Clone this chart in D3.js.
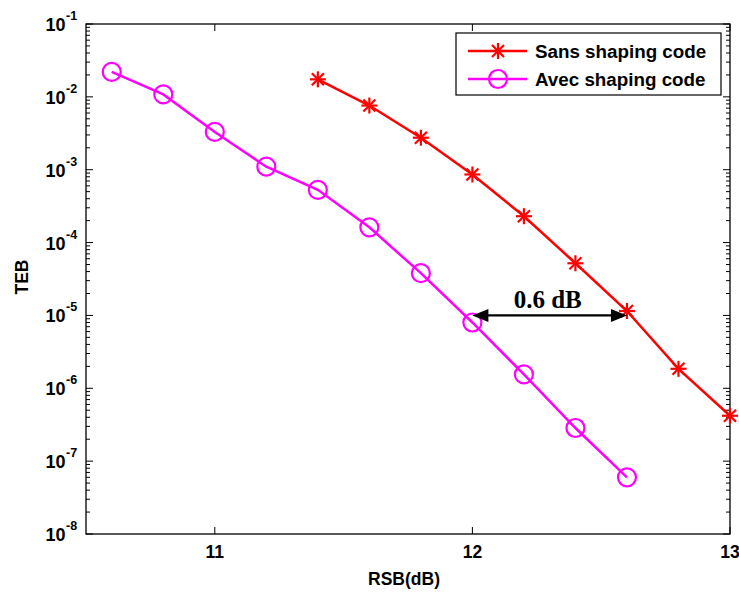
<!DOCTYPE html>
<html><head><meta charset="utf-8">
<script src="https://cdn.jsdelivr.net/npm/d3@7"></script>
<style>body{margin:0;background:#fff}svg{display:block}</style>
</head><body>
<svg id="c" width="739" height="592"></svg>
<script>
const sansX = [11.4, 11.6, 11.8, 12.0, 12.2, 12.4, 12.6, 12.8, 13.0];
const sansY = [1.74e-2, 7.6e-3, 2.75e-3, 8.6e-4, 2.3e-4, 5.2e-5, 1.15e-5, 1.85e-6, 4.2e-7];
const avecX = [10.6, 10.8, 11.0, 11.2, 11.4, 11.6, 11.8, 12.0, 12.2, 12.4, 12.6];
const avecY = [2.2e-2, 1.08e-2, 3.3e-3, 1.1e-3, 5.3e-4, 1.62e-4, 3.8e-5, 8.0e-6, 1.55e-6, 2.85e-7, 6.0e-8];
const xTicks = [11, 12, 13];
const yExps = [-1, -2, -3, -4, -5, -6, -7, -8];
const seriesNames = ["Sans shaping code", "Avec shaping code"];
const arrowX = [12.0, 12.6];
const arrowY = 1e-5;
const arrowLabel = "0.6 dB";

const svg = d3.select("#c");
const L = 86, R = 730, T = 24, B = 534;
const x = d3.scaleLinear().domain([10.5, 13]).range([L, R]);
const y = d3.scaleLog().domain([1e-8, 1e-1]).range([B, T]);
const font = "'Liberation Sans', Arial, sans-serif";

// minor ticks
const minor = [];
for (let e = -8; e < -1; e++) for (let k = 2; k <= 9; k++) minor.push(k * Math.pow(10, e));
const g = svg.append("g").attr("stroke", "#000").attr("stroke-width", 1);
minor.forEach(v => {
  g.append("line").attr("x1", L).attr("x2", L + 4).attr("y1", y(v)).attr("y2", y(v));
  g.append("line").attr("x1", R).attr("x2", R - 4).attr("y1", y(v)).attr("y2", y(v));
});
yExps.forEach(e => {
  const v = Math.pow(10, e);
  g.append("line").attr("x1", L).attr("x2", L + 7).attr("y1", y(v)).attr("y2", y(v));
  g.append("line").attr("x1", R).attr("x2", R - 7).attr("y1", y(v)).attr("y2", y(v));
});
xTicks.forEach(v => {
  g.append("line").attr("x1", x(v)).attr("x2", x(v)).attr("y1", B).attr("y2", B - 7);
  g.append("line").attr("x1", x(v)).attr("x2", x(v)).attr("y1", T).attr("y2", T + 7);
});
svg.append("rect").attr("x", L).attr("y", T).attr("width", R - L).attr("height", B - T)
  .attr("fill", "none").attr("stroke", "#000").attr("stroke-width", 1.3);

// tick labels
xTicks.forEach(v => {
  svg.append("text").attr("x", x(v)).attr("y", 558).attr("text-anchor", "middle")
    .attr("font-family", font).attr("font-weight", "bold").attr("font-size", 17.5).text(v);
});
yExps.forEach(e => {
  svg.append("text").attr("x", 65.5).attr("y", y(Math.pow(10, e)) + 7).attr("text-anchor", "end")
    .attr("font-family", font).attr("font-weight", "bold").attr("font-size", 18).text("10");
  svg.append("text").attr("x", 66).attr("y", y(Math.pow(10, e)) - 4)
    .attr("font-family", font).attr("font-weight", "bold").attr("font-size", 12.5).text(e);
});

// axis labels
svg.append("text").attr("x", 404).attr("y", 585).attr("text-anchor", "middle")
  .attr("font-family", font).attr("font-weight", "bold").attr("font-size", 17.5).text("RSB(dB)");
svg.append("text").attr("transform", "translate(28,277) rotate(-90)").attr("text-anchor", "middle")
  .attr("font-family", font).attr("font-weight", "bold").attr("font-size", 17.5).text("TEB");

const line = d3.line().x(d => x(d[0])).y(d => y(d[1]));
const sans = sansX.map((v, i) => [v, sansY[i]]);
const avec = avecX.map((v, i) => [v, avecY[i]]);
const red = "#ff0000", mag = "#ff00ff";

function star(sel, cx, cy, r, col) {
  const gg = sel.append("g").attr("stroke", col).attr("stroke-width", 2.2);
  [[0, r], [r, 0], [0.75 * r, 0.75 * r], [0.75 * r, -0.75 * r]].forEach(([dx, dy]) => {
    gg.append("line").attr("x1", cx - dx).attr("y1", cy - dy).attr("x2", cx + dx).attr("y2", cy + dy);
  });
}

svg.append("path").datum(avec).attr("d", line).attr("fill", "none").attr("stroke", mag).attr("stroke-width", 2.5);
avec.forEach(d => svg.append("circle").attr("cx", x(d[0])).attr("cy", y(d[1])).attr("r", 9)
  .attr("fill", "none").attr("stroke", mag).attr("stroke-width", 2.2));

svg.append("path").datum(sans).attr("d", line).attr("fill", "none").attr("stroke", red).attr("stroke-width", 2.5);
sans.forEach(d => star(svg, x(d[0]), y(d[1]), 8, red));

// arrow
const ay = y(arrowY), ax1 = x(arrowX[0]), ax2 = x(arrowX[1]);
svg.append("line").attr("x1", ax1 + 12).attr("x2", ax2 - 12).attr("y1", ay).attr("y2", ay)
  .attr("stroke", "#000").attr("stroke-width", 2.2);
svg.append("path").attr("d", `M${ax1},${ay} L${ax1 + 16},${ay - 6.5} L${ax1 + 16},${ay + 6.5} Z`).attr("fill", "#000");
svg.append("path").attr("d", `M${ax2},${ay} L${ax2 - 16},${ay - 6.5} L${ax2 - 16},${ay + 6.5} Z`).attr("fill", "#000");
svg.append("text").attr("x", (ax1 + ax2) / 2 - 2).attr("y", ay - 7).attr("text-anchor", "middle")
  .attr("font-family", "'Liberation Serif', 'Times New Roman', serif").attr("font-weight", "bold")
  .attr("font-size", 25).text(arrowLabel);

// legend
const lg = svg.append("g");
lg.append("rect").attr("x", 456).attr("y", 33).attr("width", 265).attr("height", 62)
  .attr("fill", "#fff").attr("stroke", "#000").attr("stroke-width", 1.2);
const ly = [51, 79];
[0, 1].forEach(i => {
  const col = i === 0 ? red : mag;
  lg.append("line").attr("x1", 468).attr("x2", 527).attr("y1", ly[i]).attr("y2", ly[i])
    .attr("stroke", col).attr("stroke-width", 2.5);
  if (i === 0) star(lg, 498, ly[i], 8, red);
  else lg.append("circle").attr("cx", 498).attr("cy", ly[i]).attr("r", 9).attr("fill", "none")
    .attr("stroke", mag).attr("stroke-width", 2.2);
  lg.append("text").attr("x", 535).attr("y", ly[i] + 7).attr("font-family", font)
    .attr("font-weight", "bold").attr("font-size", 18.8).text(seriesNames[i]);
});
</script>
</body></html>
